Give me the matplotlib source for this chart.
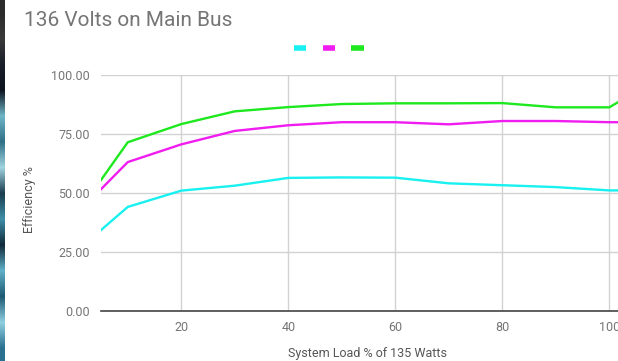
import matplotlib
matplotlib.use("Agg")
import matplotlib.pyplot as plt
from matplotlib.lines import Line2D
import numpy as np

plt.rcParams['font.family'] = ['Roboto', 'DejaVu Sans']

# System load (% of 135 W) and measured efficiency for three configurations
load_pct = [5, 10, 20, 30, 40, 50, 60, 70, 80, 90, 100, 110]
eff_cyan = [34.3, 44.1, 51.0, 53.1, 56.4, 56.6, 56.5, 54.1, 53.3, 52.5, 51.1, 51.1]
eff_magenta = [51.6, 63.1, 70.6, 76.3, 78.7, 80.0, 80.0, 79.1, 80.5, 80.5, 80.0, 80.0]
eff_green = [55.5, 71.5, 79.2, 84.6, 86.4, 87.7, 88.0, 88.0, 88.1, 86.3, 86.3, 99.5]

x_ticks = [20, 40, 60, 80, 100]
y_ticks = [0, 25, 50, 75, 100]

series = [
    (eff_cyan, '#19f0f0'),
    (eff_magenta, '#f01cf0'),
    (eff_green, '#1ee81e'),
]

W, H = 618, 361
fig = plt.figure(figsize=(W / 100, H / 100), dpi=100)
fig.patch.set_facecolor('white')

# plot area in pixel coordinates
left_px, right_px, top_px, bottom_px = 101, 618, 75, 311
ax = fig.add_axes([left_px / W, 1 - bottom_px / H,
                   (right_px - left_px) / W, (bottom_px - top_px) / H])

handles = []
for vals, col in series:
    ax.plot(load_pct, vals, color=col, lw=1.7, solid_joinstyle='round',
            zorder=3)
    handles.append(Line2D([], [], color=col, lw=4, solid_capstyle='butt'))

ax.set_xlim(5, 5 + (right_px - left_px) / 5.35)
ax.set_ylim(0, 100)
ax.set_xticks(x_ticks)
ax.set_yticks(y_ticks)
ax.set_yticklabels([f"{v:.2f}" for v in y_ticks])
ax.grid(True, color='#d2d2d2', lw=1.0, zorder=0)
ax.set_axisbelow(True)
for side in ['top', 'right', 'left']:
    ax.spines[side].set_visible(False)
ax.spines['bottom'].set_color('#444444')
ax.spines['bottom'].set_linewidth(1.2)
ax.tick_params(axis='both', length=0, labelsize=9, labelcolor='#757575')
ax.tick_params(axis='x', pad=7)
ax.tick_params(axis='y', pad=8)

fig.text(30 / W, 1 - 200 / H, 'Efficiency %', fontsize=9, color='#555555',
         rotation=90, ha='center', va='center')
fig.text(368 / W, 1 - 354 / H, 'System Load % of 135 Watts', fontsize=9,
         color='#555555', ha='center', va='center')

fig.text(24 / W, 1 - 20 / H, '136 Volts on Main Bus', fontsize=15,
         color='#757575', ha='left', va='center')

fig.legend(handles, ['', '', ''], ncol=3, frameon=False,
           loc='center', bbox_to_anchor=(329 / W, 1 - 49 / H),
           handlelength=1.0, handletextpad=0.0, columnspacing=1.3,
           fontsize=9)

# dark strip along the left edge
strip_colors = ['#2b2b2b', '#3a3a3a', '#1a1f2a', '#0c1420', '#6fb5c8',
                '#2f6f86', '#9fd3e0', '#1b3d4f', '#3f8fa8', '#102a3a',
                '#5fb0c8', '#1d5a72', '#8fcfe0', '#2a7090']
strip = fig.add_axes([0, 0, 5 / W, 1])
strip.imshow(np.array([[matplotlib.colors.to_rgb(c)] for c in strip_colors]),
             aspect='auto', interpolation='bilinear')
strip.axis('off')

fig.savefig('out.png', dpi=100)
